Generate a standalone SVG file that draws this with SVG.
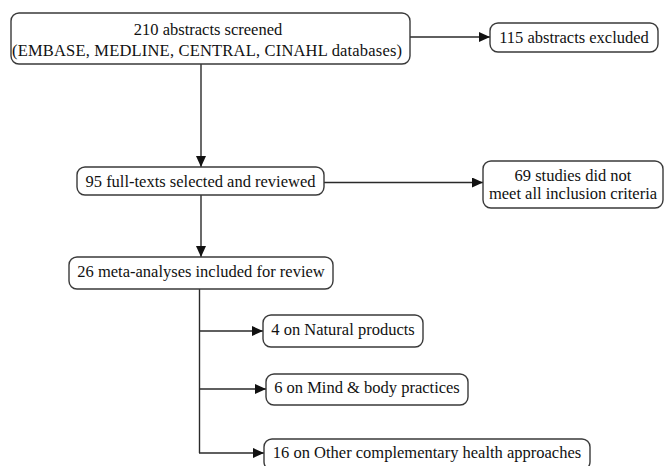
<svg xmlns="http://www.w3.org/2000/svg" width="665" height="466" viewBox="0 0 665 466">
<style>
  .box { fill: #ffffff; stroke: #3a3a3a; stroke-width: 1.4; }
  .t { font-family: "Liberation Serif", "Times New Roman", serif; font-size: 16.5px; fill: #111; text-anchor: middle; }
  .ln { fill: none; stroke: #2a2a2a; stroke-width: 1.4; }
</style>
<defs>
  <marker id="ah" markerUnits="userSpaceOnUse" markerWidth="12" markerHeight="11" refX="11" refY="5" orient="auto">
    <path d="M0,0 L11,5 L0,10 Z" fill="#111"/>
  </marker>
</defs>
<rect width="665" height="466" fill="#ffffff"/>
<g id="connectors">
  <line class="ln" x1="410" y1="37" x2="490" y2="37" marker-end="url(#ah)"/>
  <line class="ln" x1="201" y1="64" x2="201" y2="167" marker-end="url(#ah)"/>
  <line class="ln" x1="324" y1="182.5" x2="483" y2="182.5" marker-end="url(#ah)"/>
  <line class="ln" x1="201" y1="195" x2="201" y2="257" marker-end="url(#ah)"/>
  <polyline class="ln" points="199.5,289 199.5,453"/>
  <line class="ln" x1="199.5" y1="331" x2="263" y2="331" marker-end="url(#ah)"/>
  <line class="ln" x1="199.5" y1="389" x2="266" y2="389" marker-end="url(#ah)"/>
  <line class="ln" x1="199" y1="453" x2="264" y2="453" marker-end="url(#ah)"/>
</g>
<g id="n1">
  <rect class="box" x="11" y="13" width="399" height="51" rx="8"/>
  <text class="t" x="208" y="35">210 abstracts screened</text>
  <text class="t" x="207" y="56" textLength="390" lengthAdjust="spacing">(EMBASE, MEDLINE, CENTRAL, CINAHL databases)</text>
</g>
<g id="n2">
  <rect class="box" x="490" y="23" width="168" height="29" rx="8"/>
  <text class="t" x="574" y="43">115 abstracts excluded</text>
</g>
<g id="n3">
  <rect class="box" x="77" y="167" width="247" height="28" rx="8"/>
  <text class="t" x="200.5" y="187">95 full-texts selected and reviewed</text>
</g>
<g id="n4">
  <rect class="box" x="483" y="161" width="180" height="47" rx="8"/>
  <text class="t" x="573" y="181">69 studies did not</text>
  <text class="t" x="573" y="199">meet all inclusion criteria</text>
</g>
<g id="n5">
  <rect class="box" x="69" y="257" width="264" height="32" rx="8"/>
  <text class="t" x="201" y="277">26 meta-analyses included for review</text>
</g>
<g id="n6">
  <rect class="box" x="263" y="315" width="160" height="32" rx="8"/>
  <text class="t" x="343" y="335">4 on Natural products</text>
</g>
<g id="n7">
  <rect class="box" x="266" y="374" width="202" height="31" rx="8"/>
  <text class="t" x="367" y="393">6 on Mind &amp; body practices</text>
</g>
<g id="n8">
  <rect class="box" x="264" y="439" width="326" height="31" rx="8"/>
  <text class="t" x="427" y="458">16 on Other complementary health approaches</text>
</g>
</svg>
